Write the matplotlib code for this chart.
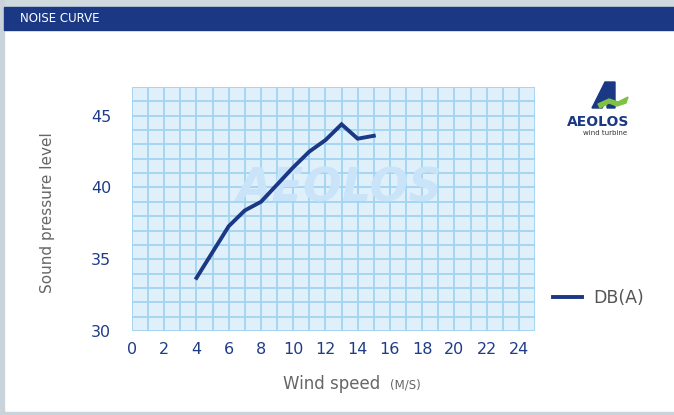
import matplotlib.pyplot as plt
import matplotlib.patches as mpatches
import numpy as np

# noise curve data
wind_speed = [4, 5, 6, 7, 8, 9, 10, 11, 12, 13, 14, 15]
db_a = [33.7, 35.5, 37.3, 38.4, 39.0, 40.2, 41.4, 42.5, 43.3, 44.4, 43.4, 43.6]
x_ticks = list(range(0, 25, 2))
y_ticks = [30, 35, 40, 45]

W, H = 674, 415
navy = '#1b3884'
tick_blue = '#1f3c88'
grey_txt = '#666666'

fig = plt.figure(figsize=(W / 100, H / 100), dpi=100)
fig.patch.set_facecolor('white')

def px(x, y):
    # pixel coords (top-left origin) -> figure fraction
    return x / W, 1 - y / H

def rect(x0, y0, x1, y1, color):
    fig.patches.append(mpatches.Rectangle(px(x0, y1), (x1 - x0) / W, (y1 - y0) / H,
                                          transform=fig.transFigure, color=color, zorder=0))

# frame and header
rect(0, 0, W, 7, '#cfd9de')
rect(0, 0, 4, H, '#c9d3d9')
rect(0, 412, W, H, '#c9d3d9')
rect(4, 7, W, 30, navy)
fig.text(*px(20, 18.5), 'NOISE CURVE', color='white', fontsize=8.5, va='center', ha='left')

# main plot
l, b = px(132, 331)
r, t = px(535, 87)
ax = fig.add_axes([l, b, r - l, t - b])
ax.set_facecolor('#dff0fb')
ax.set_xlim(0, 25)
ax.set_ylim(30, 47)
for v in range(0, 26):
    ax.axvline(v, color='#a2d4f2', lw=1.3, zorder=1)
for v in range(30, 48):
    ax.axhline(v, color='#a2d4f2', lw=1.3, zorder=1)
for s in ax.spines.values():
    s.set_visible(False)

ax.text(12.9, 39.9, 'AEOLOS', color='#c9e4f8', fontsize=33, fontweight='heavy',
        ha='center', va='center', zorder=2, style='italic')

ax.plot(wind_speed, db_a, color=navy, lw=2.8, zorder=3, solid_joinstyle='miter')

ax.set_xticks(x_ticks)
ax.set_yticks(y_ticks)
ax.tick_params(length=0, colors=tick_blue, labelsize=11.5)
ax.tick_params(axis='x', pad=8)
ax.tick_params(axis='y', pad=15)

fig.text(*px(48, 213), 'Sound pressure level', rotation=90, color=grey_txt,
         fontsize=11, ha='center', va='center')
fig.text(*px(283, 384), 'Wind speed', color=grey_txt, fontsize=12, ha='left', va='center')
fig.text(*px(390, 385), '(M/S)', color=grey_txt, fontsize=8.5, ha='left', va='center')

# legend
fig.lines.append(plt.Line2D([553 / W, 582 / W], [1 - 297 / H] * 2, color=navy, lw=2.8,
                            transform=fig.transFigure))
fig.text(*px(593, 298), 'DB(A)', color='#555555', fontsize=12.5, ha='left', va='center')

# logo
lax = fig.add_axes([0, 0, 1, 1], zorder=5)
lax.set_xlim(0, W)
lax.set_ylim(H, 0)
lax.axis('off')
lax.patch.set_visible(False)
lax.add_patch(mpatches.Polygon([(592, 108), (605, 82), (615, 82), (615, 108), (607, 108),
                                (607, 100), (602, 108)], closed=True, color=navy))
lax.add_patch(mpatches.Polygon([(598, 104), (609, 99), (618, 102), (628, 97), (626, 103),
                                (617, 106), (609, 103), (600, 108)], closed=True, color='#7dc242'))
lax.text(598, 122, 'AEOLOS', color=navy, fontsize=10, fontweight='heavy', ha='center', va='center')
lax.text(605, 133, 'wind turbine', color='#333333', fontsize=5, ha='center', va='center')

fig.savefig('out.png', dpi=100)
